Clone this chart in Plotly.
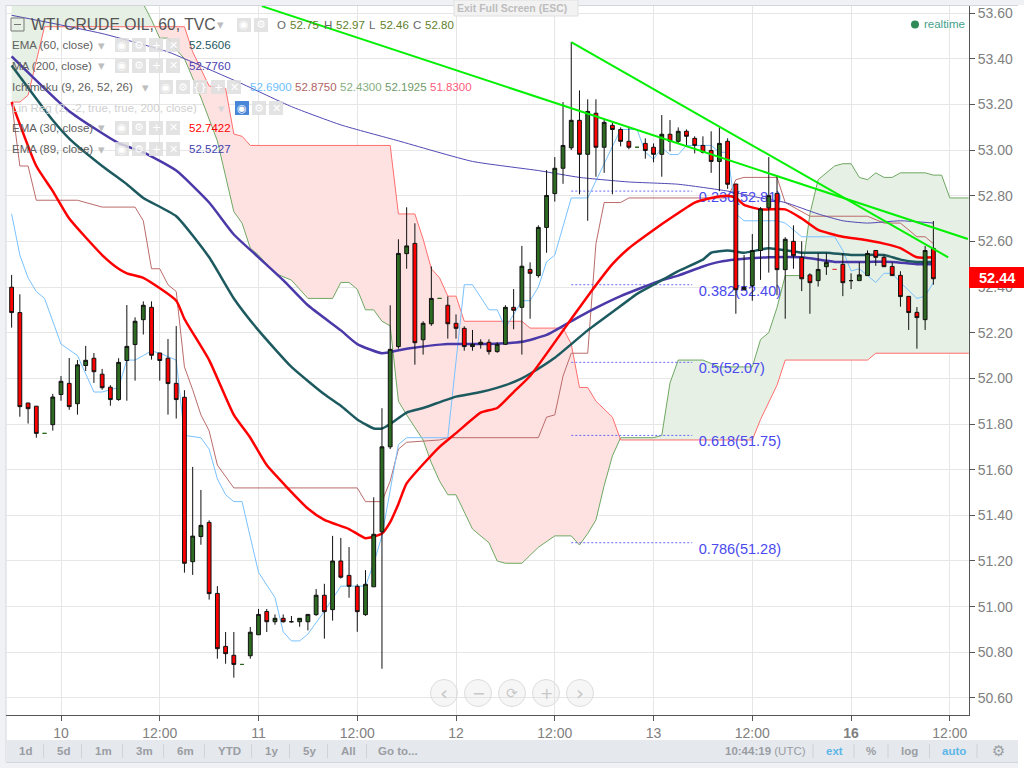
import numpy as np
import plotly.graph_objects as go

# ---------- candles (hourly bars, bar index 0 = "10") ----------
first_bar = -6
bar_open = [52.399,52.288,51.892,51.878,51.759,51.797,51.929,51.978,51.889,52.056,
 52.088,52.018,51.961,51.907,52.078,52.148,52.257,52.311,52.111,52.088,
 51.978,51.917,51.197,51.307,51.369,51.058,50.826,50.787,50.747,50.785,
 50.877,50.979,50.934,50.949,50.934,50.934,50.934,50.965,51.05,50.987,
 51.2,51.137,51.089,50.965,51.087,51.328,51.70,52.139,52.546,52.591,
 52.169,52.239,52.35,52.32,52.241,52.219,52.139,52.149,52.158,52.117,
 52.149,52.311,52.311,52.477,52.45,52.661,52.809,52.92,53.01,53.13,
 52.981,53.161,53.012,53.108,53.09,53.038,53.012,53.029,53.012,52.981,
 53.069,53.038,53.082,53.051,53.02,52.998,52.95,53.038,52.851,52.388,
 52.406,52.56,52.747,52.81,52.476,52.6,52.53,52.453,52.428,52.489,
 52.477,52.499,52.428,52.428,52.45,52.56,52.53,52.49,52.451,52.359,
 52.289,52.257,52.569]
bar_high = [52.453,52.368,51.892,51.878,51.759,51.932,52.01,52.089,52.08,52.142,
 52.111,52.041,51.97,52.088,52.321,52.267,52.337,52.337,52.111,52.172,
 52.229,51.948,51.612,51.511,51.378,51.09,50.889,50.889,50.747,50.911,
 50.99,50.99,50.966,50.966,50.959,50.949,50.966,51.077,51.1,51.31,
 51.301,51.261,51.098,51.16,51.479,51.869,52.32,52.609,52.749,52.679,
 52.25,52.49,52.35,52.359,52.28,52.228,52.212,52.171,52.171,52.158,
 52.32,52.391,52.58,52.508,52.67,52.912,52.969,53.21,53.473,53.261,
 53.222,53.222,53.131,53.121,53.099,53.099,53.012,53.051,53.029,53.153,
 53.131,53.099,53.09,53.06,53.06,53.082,53.099,53.051,52.851,52.54,
 52.632,52.75,52.969,52.889,52.618,52.67,52.6,52.46,52.548,52.548,
 52.477,52.548,52.46,52.508,52.56,52.56,52.539,52.508,52.469,52.36,
 52.312,52.58,52.689]
bar_low = [52.222,51.832,51.802,51.74,51.759,51.771,51.902,51.862,51.841,52.032,
 51.98,51.95,51.88,51.902,51.902,51.99,52.192,52.082,51.99,51.841,
 51.824,51.149,51.139,51.271,51.031,50.772,50.75,50.689,50.747,50.772,
 50.877,50.889,50.921,50.93,50.93,50.912,50.896,50.96,50.86,50.939,
 51.123,51.039,50.89,50.96,51.087,50.728,51.69,52.13,52.48,52.06,
 52.104,52.23,52.35,52.174,52.174,52.121,52.121,52.13,52.104,52.112,
 52.149,52.215,52.104,52.261,52.441,52.55,52.774,52.852,53.0,52.806,
 52.69,52.883,52.9,52.806,53.016,53.003,53.012,52.962,52.946,52.883,
 52.994,53.029,53.02,52.985,52.985,52.9,52.82,52.83,52.283,52.386,
 52.34,52.431,52.463,52.364,52.261,52.48,52.382,52.283,52.402,52.453,
 52.477,52.36,52.391,52.428,52.45,52.493,52.489,52.45,52.314,52.212,
 52.13,52.212,52.41]
bar_close = [52.288,51.876,51.867,51.759,51.759,51.918,51.987,51.876,52.059,52.079,
 52.029,51.959,51.907,52.07,52.14,52.25,52.32,52.101,52.078,51.977,
 51.907,51.19,51.309,51.356,51.057,50.816,50.794,50.747,50.747,50.888,
 50.966,50.934,50.949,50.934,50.934,50.949,50.966,51.05,50.978,51.2,
 51.129,51.089,50.978,51.098,51.317,51.70,52.127,52.547,52.58,52.156,
 52.241,52.35,52.35,52.239,52.219,52.139,52.149,52.158,52.117,52.149,
 52.311,52.298,52.491,52.46,52.661,52.801,52.92,53.02,53.13,52.981,
 53.169,53.012,53.121,53.09,53.038,53.012,53.012,52.998,52.981,53.069,
 53.038,53.082,53.06,53.02,52.99,52.95,53.029,52.85,52.388,52.398,
 52.56,52.742,52.8,52.476,52.609,52.537,52.436,52.419,52.477,52.508,
 52.477,52.419,52.428,52.453,52.547,52.53,52.489,52.45,52.358,52.288,
 52.266,52.56,52.436]
flat_green_bars = [-2, 22, 46, 70]
flat_red_bars = [94]

# ---------- indicators: (bar index, price) ----------
ema30_x = [-6,-3,-1,1,5,7,8,10,14,15,18,21,23,25,30,32,35,37,39,40,41,42,46,48,51,53,55,57,62,64,67,69,72,74,77,79,81,82,83,85,88,90,92,95,97,100,102,104,106]
ema30_y = [53.21,52.93,52.82,52.70,52.54,52.48,52.46,52.44,52.34,52.26,52.08,51.84,51.74,51.62,51.43,51.38,51.34,51.30,51.32,51.37,51.45,51.54,51.70,51.76,51.85,51.87,51.94,52.01,52.26,52.36,52.50,52.57,52.65,52.70,52.77,52.79,52.80,52.79,52.76,52.74,52.74,52.70,52.65,52.62,52.61,52.59,52.57,52.53,52.53]
ema60_x = [-6,-1,1,5,8,10,14,18,21,24,28,32,34,36,38,39,40,42,44,48,51,54,56,57,60,64,67,70,72,75,78,79,81,83,86,90,93,96,100,102,104,106]
ema60_y = [53.37,53.13,53.05,52.93,52.85,52.79,52.71,52.53,52.35,52.21,52.05,51.93,51.88,51.82,51.78,51.78,51.80,51.85,51.87,51.92,51.94,51.97,52.00,52.02,52.09,52.21,52.29,52.37,52.41,52.47,52.52,52.55,52.56,52.55,52.57,52.55,52.55,52.54,52.54,52.52,52.51,52.51]
ema89_x = [-6,1,7,10,14,18,21,24,27,30,34,36,39,42,47,52,56,59,62,64,68,73,75,78,80,82,86,90,94,98,101,104,106]
ema89_y = [53.41,53.17,53.03,52.99,52.91,52.77,52.63,52.53,52.43,52.32,52.21,52.15,52.11,52.13,52.15,52.15,52.16,52.19,52.25,52.29,52.36,52.43,52.45,52.49,52.51,52.52,52.53,52.53,52.51,52.51,52.51,52.50,52.50]
ma200_x = [-6,5,13,15,22,28,34,41,50,58,63,69,75,81,85,88,92,95,98,102,106]
ma200_y = [53.59,53.51,53.43,53.40,53.29,53.19,53.11,53.04,52.95,52.91,52.88,52.86,52.85,52.82,52.79,52.77,52.72,52.69,52.68,52.69,52.68]
conv_x = [-6,-5,-4,-3,-2,0,2,4,5,7,8,9,10,11,12,14,15,17,18,19,20,21,22,24,26,27,28,29,30,32,34,37,38,39,40,41,42,47,49,50,52,53,54,56,57,58,59,60,62,64,68,70,71,72,73,74,75,76,79,80,81,82,83,87,88,90,94,95,96,97,99,100,101,102,104,105,106]
conv_y = [52.72,52.54,52.44,52.38,52.35,52.15,52.10,51.94,51.94,51.96,52.08,52.08,52.10,52.12,52.11,52.08,51.75,51.74,51.69,51.56,51.49,51.46,51.46,51.15,51.04,50.89,50.85,50.85,50.88,50.98,51.09,51.09,51.19,51.31,51.51,51.71,51.74,51.74,52.41,52.41,52.30,52.30,52.22,52.34,52.34,52.40,52.51,52.54,52.79,52.79,53.09,53.09,52.99,52.96,53.01,52.98,52.98,53.02,53.02,52.99,52.99,52.72,52.69,52.69,52.68,52.62,52.62,52.56,52.47,52.48,52.42,52.46,52.46,52.42,52.35,52.36,52.42]
base_x = [-6,-5,-4,-3,2,5,9,10,11,12,13,14,15,16,17,18,19,21,36,37,39,40,41,42,46,47,58,59,60,61,62,64,65,66,68,69,81,82,83,87,88,91,98,100,102,104,105,106]
base_y = [53.21,52.93,52.93,52.78,52.78,52.75,52.75,52.69,52.48,52.48,52.41,52.38,52.05,51.95,51.84,51.77,51.62,51.52,51.52,51.46,51.46,51.55,51.69,51.72,51.73,51.74,51.74,51.83,51.84,52.01,52.11,52.11,52.59,52.77,52.77,52.79,52.79,52.87,52.88,52.88,52.77,52.71,52.71,52.68,52.68,52.62,52.62,52.59]
span_a_x = [-6,10,11,12,13,14,15,17,19,20,21,22,23,24,26,28,30,31,33,34,35,36,37,38,39,40,41,42,44,45,46,47,48,50,52,53,54,56,58,60,62,63,64,65,66,67,68,72,73,74,75,78,80,84,85,86,87,88,90,91,92,94,95,96,97,98,99,100,101,102,105,106,107,108,110.3]
span_a_y = [54.4,53.64,53.57,53.49,53.49,53.44,53.40,53.23,53.04,52.89,52.73,52.68,52.57,52.54,52.46,52.43,52.35,52.35,52.35,52.42,52.42,52.39,52.30,52.30,52.25,52.23,51.90,51.84,51.73,51.63,51.55,51.49,51.49,51.34,51.28,51.20,51.19,51.19,51.26,51.31,51.31,51.27,51.32,51.38,51.53,51.66,51.74,51.74,51.75,51.98,52.08,52.08,52.05,52.05,52.17,52.20,52.31,52.45,52.45,52.72,52.87,52.93,52.94,52.94,52.88,52.87,52.90,52.88,52.88,52.90,52.90,52.89,52.89,52.79,52.79]
span_b_x = [-6,-5,-4,-3,-2,15,16,18,20,21,22,23,40,41,43,44,45,46,47,48,49,56,57,61,62,63,64,65,67,68,84,85,87,88,98,99,110.3]
span_b_y = [53.21,53.21,53.24,53.39,53.54,53.54,53.43,53.28,53.27,53.07,53.06,53.02,53.02,52.72,52.72,52.61,52.48,52.44,52.36,52.36,52.25,52.25,52.22,52.22,52.15,51.96,51.96,51.90,51.83,51.73,51.73,51.82,51.97,52.08,52.08,52.11,52.11]

trend1_x = [24.4, 110.2]
trend1_y = [53.63, 52.61]
trend2_x = [62, 107.8]
trend2_y = [53.473, 52.53]

fib_start = 62
fib_end = 76.7
fib_label_x = 77.5
fib_levels = [52.82, 52.41, 52.07, 51.75, 51.28]
fib_labels = ["0.236(52.81)", "0.382(52.40)", "0.5(52.07)", "0.618(51.75)", "0.786(51.28)"]

price_ticks = [50.6,50.8,51.0,51.2,51.4,51.6,51.8,52.0,52.2,52.4,52.6,52.8,53.0,53.2,53.4,53.6]
time_ticks = [0,12,24,36,48,60,72,84,96,108]
time_labels = ["10","12:00","11","12:00","12","12:00","13","12:00","<b>16</b>","12:00"]

# ---------- layout geometry (pixels) ----------
W, H = 1024, 768
L, R, T, B = 6, 969, 6, 715
def X(px): return (px - L) / (R - L)
def Y(py): return 1 - (py - T) / (B - T)
x_range = [-6.683, 110.33]
y_range = [50.5255, 53.6307]
SANS = "Liberation Sans"
GREEN_BODY, RED_BODY = "#2e6b22", "#ff0000"

fig = go.Figure()
skip = dict(hoverinfo="skip", showlegend=False)

# cloud: sign-coloured polygons between span A and span B
grid = np.array(sorted(set(span_a_x) | set(span_b_x)), float)
sa = np.interp(grid, span_a_x, span_a_y)
sb = np.interp(grid, span_b_x, span_b_y)
segments, cx, ca, cb = [], [grid[0]], [sa[0]], [sb[0]]
for k in range(1, len(grid)):
    d0, d1 = sa[k-1]-sb[k-1], sa[k]-sb[k]
    if d0 * d1 < 0:
        t = d0 / (d0 - d1)
        xc = grid[k-1] + t*(grid[k]-grid[k-1])
        yc = sa[k-1] + t*(sa[k]-sa[k-1])
        cx.append(xc); ca.append(yc); cb.append(yc)
        segments.append((cx, ca, cb, d0 > 0))
        cx, ca, cb = [xc], [yc], [yc]
    cx.append(grid[k]); ca.append(sa[k]); cb.append(sb[k])
segments.append((cx, ca, cb, sa[-1] > sb[-1]))
for sx, a, b, up in segments:
    fig.add_trace(go.Scatter(x=list(sx)+list(sx)[::-1], y=list(a)+list(b)[::-1], mode="lines",
                             line=dict(width=0), fill="toself",
                             fillcolor="#e6f0e4" if up else "#fee2e2", **skip))

def line(x, y, color, width, dash=None, smooth=None):
    style = dict(color=color, width=width, dash=dash)
    if smooth:
        style.update(shape="spline", smoothing=smooth)
    fig.add_trace(go.Scatter(x=x, y=y, mode="lines", line=style, **skip))

line(span_a_x, span_a_y, "#6fa862", 1)
line(span_b_x, span_b_y, "#ff6e6e", 1)
line(base_x, base_y, "#bb6b6b", 1)
line(conv_x, conv_y, "#79c2ff", 1)
line(ma200_x, ma200_y, "#5048b4", 1, smooth=0.5)
for lv in fib_levels:
    line([fib_start, fib_end], [lv, lv], "#6a6af5", 1, dash="2px,2px")
fig.add_trace(go.Scatter(x=[fib_label_x]*5, y=fib_levels, mode="text", text=fib_labels,
                         textposition="bottom right",
                         textfont=dict(family=SANS, size=14.5, color="#4a4aee"), **skip))
line(ema89_x, ema89_y, "#4a39a8", 2.5, smooth=0.5)
line(ema60_x, ema60_y, "#1d5a5f", 2.5, smooth=0.5)
line(ema30_x, ema30_y, "#ff0000", 2.5, smooth=0.5)

# candles (on an overlaid axis pair so they paint above the lines)
bars = list(range(first_bar, first_bar + len(bar_open)))
flat = set(flat_green_bars) | set(flat_red_bars)
keep = [k for k, b in enumerate(bars) if b not in flat]
pick = lambda arr, idx: [arr[k] for k in idx]
fig.add_trace(go.Candlestick(x=pick(bars, keep), open=pick(bar_open, keep), high=pick(bar_high, keep),
    low=pick(bar_low, keep), close=pick(bar_close, keep), whiskerwidth=0, xaxis="x2", yaxis="y2",
    increasing=dict(fillcolor=GREEN_BODY, line=dict(color="#111111", width=1)),
    decreasing=dict(fillcolor=RED_BODY, line=dict(color="#111111", width=1)),
    hoverinfo="skip", showlegend=False))
for group, col in ((flat_green_bars, GREEN_BODY), (flat_red_bars, "#e04040")):
    idx = [b - first_bar for b in group]
    fig.add_trace(go.Candlestick(x=group, open=pick(bar_open, idx), high=pick(bar_high, idx),
        low=pick(bar_low, idx), close=pick(bar_close, idx), whiskerwidth=0, xaxis="x2", yaxis="y2",
        increasing=dict(fillcolor=col, line=dict(color=col, width=1)),
        decreasing=dict(fillcolor=col, line=dict(color=col, width=1)),
        hoverinfo="skip", showlegend=False))

# trend lines on top
fig.add_trace(go.Scatter(x=trend1_x, y=trend1_y, mode="lines", line=dict(color="#00f000", width=2),
                         xaxis="x3", yaxis="y3", **skip))
fig.add_trace(go.Scatter(x=trend2_x, y=trend2_y, mode="lines", line=dict(color="#00f000", width=2),
                         xaxis="x3", yaxis="y3", **skip))

shapes, anns = [], []
def rect(x0, y0, x1, y1, fill, layer="above", line_col=None, lw=0):
    shapes.append(dict(type="rect", xref="paper", yref="paper", x0=X(x0), x1=X(x1), y0=Y(y0), y1=Y(y1),
                       fillcolor=fill, layer=layer, line=dict(color=line_col or fill, width=lw)))
def hline(x0, x1, y, col, layer="below", lw=1):
    shapes.append(dict(type="line", xref="paper", yref="paper", x0=X(x0), x1=X(x1), y0=Y(y), y1=Y(y),
                       layer=layer, line=dict(color=col, width=lw)))
def vline(x, y0, y1, col, layer="below", lw=1):
    shapes.append(dict(type="line", xref="paper", yref="paper", x0=X(x), x1=X(x), y0=Y(y0), y1=Y(y1),
                       layer=layer, line=dict(color=col, width=lw)))
def text(px, py, s, col="#555555", size=11.5, anchor="left", family=SANS):
    anns.append(dict(xref="paper", yref="paper", x=X(px), y=Y(py), text=s, showarrow=False,
                     xanchor=anchor, yanchor="middle", borderpad=0,
                     font=dict(family=family, size=size, color=col)))

# page chrome
STRIP = "#eff1f5"
rect(0, 0, 1024, 5, STRIP, "below")
rect(0, 0, 6, 768, STRIP, "below")
rect(0, 762, 1018, 768, STRIP, "below")
hline(6, 1018, 5.5, "#d3d6db")
vline(6, 5, 762, "#d3d6db")
rect(7, 740, 1018, 762, "#e5e8ed", "below")
hline(6, 1018, 762.5, "#d3d6db")

# exit full screen tab
shapes.append(dict(type="rect", xref="paper", yref="paper", x0=X(454), x1=X(578), y0=Y(0), y1=Y(16),
                   fillcolor="#f2f2f2", layer="above", line=dict(color="#e0e0e0", width=1)))
text(512, 8, "<b>Exit Full Screen (ESC)</b>", "#bdbdbd", 10.5, "center")

# legend block
ICON = "rgba(222,222,222,0.85)"
def icon(x0, yc, glyph, fill=ICON, size=11):
    rect(x0, yc-7, x0+14, yc+7, fill)
    text(x0+7, yc, glyph, "#ffffff", size, "center", "DejaVu Sans")
EYE, GEAR, PLUS, CROSS, BRACE = "◉", "⚙", "+", "✕", "{}"

shapes.append(dict(type="rect", xref="paper", yref="paper", x0=X(11), x1=X(24), y0=Y(18), y1=Y(31),
                   line=dict(color="#777777", width=1), fillcolor="rgba(0,0,0,0)", layer="above"))
hline(14, 21, 24.5, "#777777", "above")
text(30, 25, "WTI CRUDE OIL, 60, TVC", "#555555", 15.7)
text(220, 25, "▾", "#bdbdbd", 13, "center", "DejaVu Sans")
icon(237, 25, EYE); icon(254, 25, GEAR)
for px, s, c in [(276,"O","#666666"),(289,"52.75","#5f7f2c"),(323,"H","#666666"),(335,"52.97","#5f7f2c"),
                 (368,"L","#666666"),(379,"52.46","#5f7f2c"),(412,"C","#666666"),(424,"52.80","#5f7f2c")]:
    text(px, 25, s, c, 11.5)

rows = [(45, "EMA (60, close)", 101, "52.5606", "#1d5a5f"),
        (66, "MA (200, close)", 101, "52.7760", "#4a3fb0"),
        (128, "EMA (30, close)", 101, "52.7422", "#ff0000"),
        (149, "EMA (89, close)", 101, "52.5227", "#3f3fb0")]
for yc, label, tri, val, col in rows:
    text(11, yc, label, "#606060")
    text(tri, yc, "▾", "#bdbdbd", 13, "center", "DejaVu Sans")
    for x0, g in zip((115, 132, 149, 166), (EYE, GEAR, PLUS, CROSS)):
        icon(x0, yc, g)
    text(188, yc, val, col)
text(11, 87, "Ichimoku (9, 26, 52, 26)", "#606060")
text(145, 87, "▾", "#bdbdbd", 13, "center", "DejaVu Sans")
for x0, g in zip((159, 176, 193, 211, 227), (EYE, GEAR, BRACE, PLUS, CROSS)):
    icon(x0, 87, g)
for px, val, col in [(249,"52.6900","#6ebeff"),(294,"52.8750","#b06464"),(339,"52.4300","#84ae80"),
                     (384,"52.1925","#6f9a6a"),(429,"51.8300","#ff5a7a")]:
    text(px, 87, val, col)
text(11, 108, "Lin Reg (2, -2, true, true, 200, close)", "#cfcfcf")
text(221, 108, "▾", "#d8d8d8", 13, "center", "DejaVu Sans")
icon(235, 108, EYE, "#4a86d8")
icon(252, 108, GEAR); icon(269, 108, CROSS)

# realtime marker
shapes.append(dict(type="circle", xref="paper", yref="paper", x0=X(911), x1=X(919), y0=Y(20.5), y1=Y(28.5),
                   fillcolor="#2e8b57", layer="above", line=dict(color="#2e8b57", width=0)))
text(923, 24.5, "realtime", "#45a08c", 11.5)

# navigation buttons
for cx_, g, sz in [(444,"‹",20),(478,"−",16),(512,"⟳",14),(546,"+",16),(580,"›",20)]:
    shapes.append(dict(type="circle", xref="paper", yref="paper", x0=X(cx_-13.5), x1=X(cx_+13.5),
                       y0=Y(693-13.5), y1=Y(693+13.5), fillcolor="rgba(225,225,225,0.3)",
                       layer="above", line=dict(color="#dddddd", width=1)))
    text(cx_, 693, g, "#c8c8c8", sz, "center", "DejaVu Sans")

# last price flag
rect(969, 267, 1024, 288, "#ff0000")
text(996.5, 277.5, "<b>52.44</b>", "#ffffff", 14.5, "center")

# bottom toolbar
for px, s in [(25,"1d"),(63,"5d"),(103,"1m"),(144,"3m"),(185,"6m"),(229,"YTD"),(271,"1y"),(309,"5y"),(348,"All"),(398,"Go to...")]:
    text(px, 751, f"<b>{s}</b>", "#9a9da3", 11.5, "center")
for px in (43.5,81.5,122.5,163.5,204.5,251.5,289.5,327.5,366.5,813,854,888,929.5,977):
    vline(px, 744, 758, "#d0d3d8", "above")
text(724, 751, "<b>10:44:19</b> (UTC)", "#9a9da3", 11.5)
text(834, 751, "<b>ext</b>", "#5db7e8", 11.5, "center")
text(871, 751, "<b>%</b>", "#9a9da3", 11.5, "center")
text(909, 751, "<b>log</b>", "#9a9da3", 11.5, "center")
text(954, 751, "<b>auto</b>", "#5db7e8", 11.5, "center")
text(998, 751, "⚙", "#9a9da3", 15, "center", "DejaVu Sans")

fig.update_layout(
    width=W, height=H, autosize=False,
    margin=dict(l=L, r=W-R, t=T, b=H-B, pad=0),
    paper_bgcolor="#ffffff", plot_bgcolor="#ffffff", showlegend=False, boxgap=0.34,
    hovermode=False, shapes=shapes, annotations=anns,
    xaxis=dict(range=x_range, tickmode="array", tickvals=time_ticks, ticktext=time_labels,
               showgrid=True, gridcolor="#e6e6e6", gridwidth=1, zeroline=False,
               showline=True, linecolor="#555555", linewidth=1, ticks="outside", ticklen=5,
               tickcolor="#555555", tickfont=dict(family=SANS, size=14, color="#808080"),
               rangeslider=dict(visible=False), fixedrange=True),
    yaxis=dict(range=y_range, side="right", tickmode="array", tickvals=price_ticks,
               ticktext=[f"{p:.2f}" for p in price_ticks], showgrid=True, gridcolor="#e6e6e6",
               gridwidth=1, zeroline=False, showline=True, linecolor="#555555", linewidth=1,
               ticks="outside", ticklen=5, tickcolor="#555555",
               tickfont=dict(family=SANS, size=14, color="#808080"), fixedrange=True),
    xaxis2=dict(range=x_range, overlaying="x", visible=False, fixedrange=True, rangeslider=dict(visible=False)),
    yaxis2=dict(range=y_range, overlaying="y", visible=False, fixedrange=True),
    xaxis3=dict(range=x_range, overlaying="x", visible=False, fixedrange=True),
    yaxis3=dict(range=y_range, overlaying="y", visible=False, fixedrange=True),
)

fig.write_html("out.html", config=dict(displayModeBar=False),
               post_script="document.body.style.margin='0';document.body.style.overflow='hidden';")
